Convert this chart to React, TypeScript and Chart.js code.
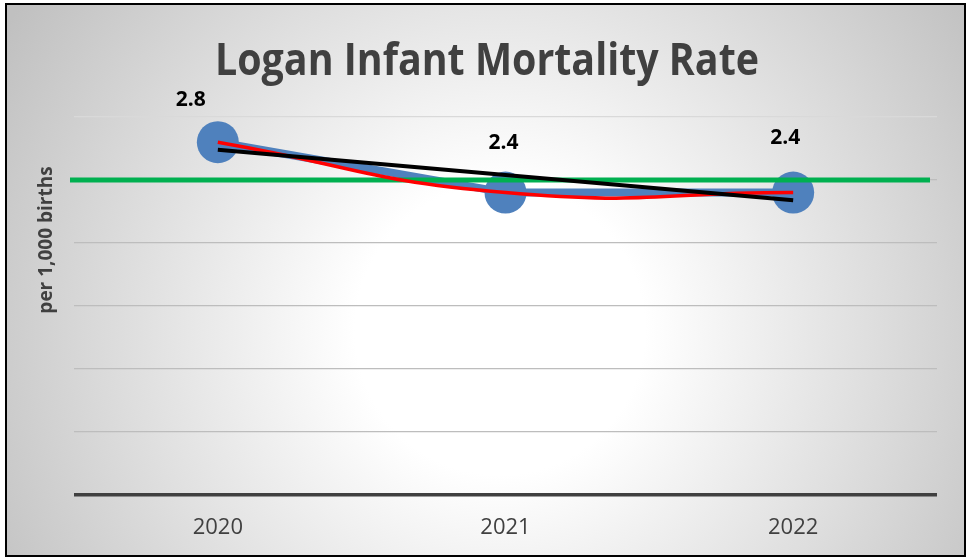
import React, { useEffect, useRef } from "react";
import { Chart, registerables } from "chart.js";

Chart.register(...registerables);

const categories = ["2020", "2021", "2022"];
const rateValues = [2.8, 2.4, 2.4];
const linearTrendValues = [2.74, 2.54, 2.34];
const polyTrendValues = [2.8, 2.4, 2.4];
const targetValue = 2.5;
const yMin = 0;
const yMax = 3;
const yStep = 0.5;
const titleText = "Logan Infant Mortality Rate";
const yAxisTitle = "per 1,000 births";
const valueLabels = ["2.8", "2.4", "2.4"];

const W = 967;
const H = 558;

const framePlugin = {
  id: "framePlugin",
  beforeDraw(chart: any) {
    const ctx = chart.ctx;
    ctx.save();
    ctx.fillStyle = "#ffffff";
    ctx.fillRect(0, 0, W, H);
    const g = ctx.createRadialGradient(500, 330, 0, 500, 330, 580);
    g.addColorStop(0, "#ffffff");
    g.addColorStop(0.25, "#ffffff");
    g.addColorStop(1, "#c0c0c0");
    ctx.fillStyle = g;
    ctx.fillRect(6, 4, 959, 552);
    ctx.strokeStyle = "#000000";
    ctx.lineWidth = 2;
    ctx.strokeRect(6, 4, 959, 552);

    ctx.fillStyle = "#404040";
    ctx.font = 'bold 45px "Open Sans"';
    ctx.textAlign = "center";
    ctx.textBaseline = "alphabetic";
    ctx.fillText(titleText, 487, 75, 544);

    ctx.translate(47, 240);
    ctx.rotate(-Math.PI / 2);
    ctx.font = 'bold 19px "Open Sans"';
    ctx.textBaseline = "middle";
    ctx.fillText(yAxisTitle, 0, 0, 154);
    ctx.restore();
  },
  afterDatasetDraw(chart: any, args: any) {
    if (args.index !== 0) return;
    const ctx = chart.ctx;
    const area = chart.chartArea;
    const y = chart.scales.y.getPixelForValue(targetValue);
    ctx.save();
    ctx.strokeStyle = "#00b050";
    ctx.lineWidth = 5;
    ctx.beginPath();
    ctx.moveTo(area.left - 4, y);
    ctx.lineTo(area.right - 7, y);
    ctx.stroke();
    ctx.restore();
  },
  afterDatasetsDraw(chart: any) {
    const ctx = chart.ctx;
    const meta = chart.getDatasetMeta(0);
    const offsets = [
      [-27, -42],
      [-2, -50],
      [-8, -55],
    ];
    ctx.save();
    ctx.fillStyle = "#000000";
    ctx.font = 'bold 21px "Open Sans"';
    ctx.textAlign = "center";
    ctx.textBaseline = "middle";
    meta.data.forEach((pt: any, i: number) => {
      ctx.fillText(valueLabels[i], pt.x + offsets[i][0], pt.y + offsets[i][1]);
    });
    ctx.restore();
  },
};

export default function App() {
  const ref = useRef<HTMLCanvasElement | null>(null);

  useEffect(() => {
    if (!ref.current) return;
    const chart = new Chart(ref.current, {
      type: "line",
      data: {
        labels: categories,
        datasets: [
          {
            label: "Rate",
            data: rateValues,
            borderColor: "#4f81bd",
            backgroundColor: "#4f81bd",
            borderWidth: 8,
            pointRadius: 21,
            pointHoverRadius: 21,
            pointBorderWidth: 0,
            pointBackgroundColor: "#4f81bd",
            tension: 0,
            order: 3,
          },
          {
            label: "Poly. trend",
            data: polyTrendValues,
            borderColor: "#ff0000",
            borderWidth: 3.5,
            pointRadius: 0,
            tension: 0.5,
            order: 1,
          },
          {
            label: "Linear trend",
            data: linearTrendValues,
            borderColor: "#000000",
            borderWidth: 4,
            pointRadius: 0,
            tension: 0,
            order: 0,
          },
        ],
      },
      options: {
        responsive: false,
        animation: false,
        layout: { padding: { left: 74, top: 117, right: 30, bottom: 0 } },
        plugins: {
          legend: { display: false },
          tooltip: { enabled: false },
          title: { display: false },
        },
        scales: {
          x: {
            offset: true,
            grid: { display: false, drawTicks: false },
            border: { display: false },
            ticks: {
              padding: 20,
              color: "#404040",
              font: { family: '"Open Sans"', size: 22 },
            },
            afterFit: (s: any) => {
              s.height = 63;
            },
          },
          y: {
            min: yMin,
            max: yMax,
            border: { display: false },
            ticks: { display: false, stepSize: yStep },
            grid: {
              drawTicks: false,
              color: (c: any) =>
                c.tick.value === 0 ? "#404040" : c.tick.value === yMax ? "#d9d9d9" : "#bdbdbd",
              lineWidth: (c: any) => (c.tick.value === 0 ? 3.5 : 1.3),
            },
            afterFit: (s: any) => {
              s.width = 0;
            },
          },
        },
      },
      plugins: [framePlugin],
    });
    return () => chart.destroy();
  }, []);

  return (
    <div style={{ position: "fixed", left: 0, top: 0, width: W, height: H }}>
      <canvas ref={ref} width={W} height={H} style={{ width: W, height: H, display: "block" }} />
    </div>
  );
}
